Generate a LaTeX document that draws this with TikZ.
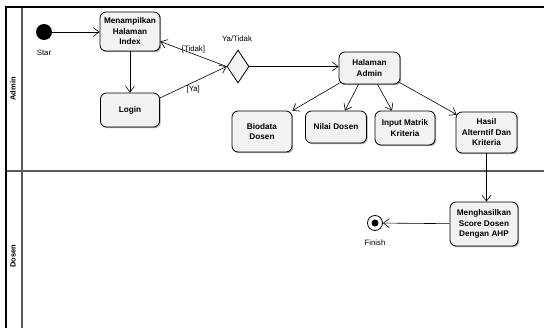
\documentclass[tikz,border=0pt]{standalone}
\usepackage{fontspec}
\setmainfont{Liberation Sans}
\usetikzlibrary{shapes.geometric,arrows.meta,shadows}
\begin{document}
\begin{tikzpicture}[x=1pt,y=-1pt,
  act/.style={draw=black, line width=0.8pt, rounded corners=6pt, fill=gray!10, align=center, inner sep=1pt,
    font=\bfseries\fontsize{8.2}{10.5}\selectfont,
    drop shadow={shadow xshift=1.2pt, shadow yshift=-1.2pt, fill=gray!70, opacity=1}},
  lbl/.style={font=\fontsize{7.8}{9}\selectfont, inner sep=0pt},
  flow/.style={draw=black, line width=0.6pt, -{Straight Barb[length=6pt,width=9pt]}},
  lane/.style={draw=black!65, line width=1.2pt}]
\useasboundingbox (0,0) rectangle (544,328);
% swimlanes
\draw[lane] (22,7) -- (22,328);
\draw[lane] (6,171) -- (544,171);
\draw[black, line width=2pt] (544,7) -- (6,7) -- (6,328);
\node[rotate=90, font=\bfseries\fontsize{7.5}{8}\selectfont] (laneA) at (13,89) {Admin};
\node[rotate=90, font=\bfseries\fontsize{7.5}{8}\selectfont] (laneD) at (13,256) {Dosen};
% nodes
\node[circle, fill=black, minimum size=16pt, inner sep=0pt] (start) at (44,32) {};
\node[lbl] (startl) at (44,53) {Star};
\node[act, minimum width=60pt, minimum height=39pt] (idx) at (130,31.5) {Menampilkan\\Halaman\\Index};
\node[act, minimum width=59pt, minimum height=34pt] (login) at (130,110) {Login};
\node[diamond, draw=black, line width=0.8pt, fill=gray!10, minimum width=22pt, minimum height=33pt, inner sep=0pt] (dec) at (238,66.5) {};
\node[lbl] (decl) at (237,39) {Ya/Tidak};
\node[act, minimum width=61pt, minimum height=32pt] (adm) at (369.5,68) {Halaman\\Admin};
\node[act, minimum width=60pt, minimum height=41pt] (bio) at (262,131.5) {Biodata\\Dosen};
\node[act, minimum width=61pt, minimum height=32pt] (nilai) at (336,127) {Nilai Dosen};
\node[act, minimum width=60pt, minimum height=34pt] (input) at (405,128) {Input Matrik\\Kriteria};
\node[act, minimum width=61pt, minimum height=41pt] (hasil) at (486.5,132.5) {Hasil\\Alterntif Dan\\Kriteria};
\node[act, minimum width=68pt, minimum height=44pt] (score) at (484,224) {Menghasilkan\\Score Dosen\\Dengan AHP};
\node[circle, draw=black, line width=0.8pt, fill=white, minimum size=15pt, inner sep=0pt] (fin) at (375,223) {};
\node[circle, fill=black, minimum size=7pt, inner sep=0pt] (finin) at (fin) {};
\node[lbl] (finl) at (375,243) {Finish};
% connectors
\draw[flow] (start) -- (idx.west |- start);
\draw[flow] (idx) -- (login);
\draw[flow] ([yshift=12pt]login.east) -- (dec.west) node[lbl, pos=0.5, below=3pt] (ya) {[Ya]};
\draw[flow] (dec.west) -- ([yshift=-10pt]idx.east) node[lbl, pos=0.5, above=1pt] (tidak) {[Tidak]};
\draw[flow] (dec.east) -- (adm.west |- dec.east);
\draw[flow] ([xshift=2pt,yshift=2pt]adm.south west) -- (bio.north east);
\draw[flow] ([xshift=-11pt]adm.south) -- ([xshift=9pt]nilai.north);
\draw[flow] ([xshift=8pt]adm.south) -- ([xshift=-13pt]input.north);
\draw[flow] ([xshift=-1pt,yshift=2pt]adm.south east) -- ([xshift=1pt,yshift=-3pt]hasil.north west);
\draw[flow] (hasil) -- (hasil |- score.north);
\draw[flow] (score) -- (fin);
\end{tikzpicture}
\end{document}
